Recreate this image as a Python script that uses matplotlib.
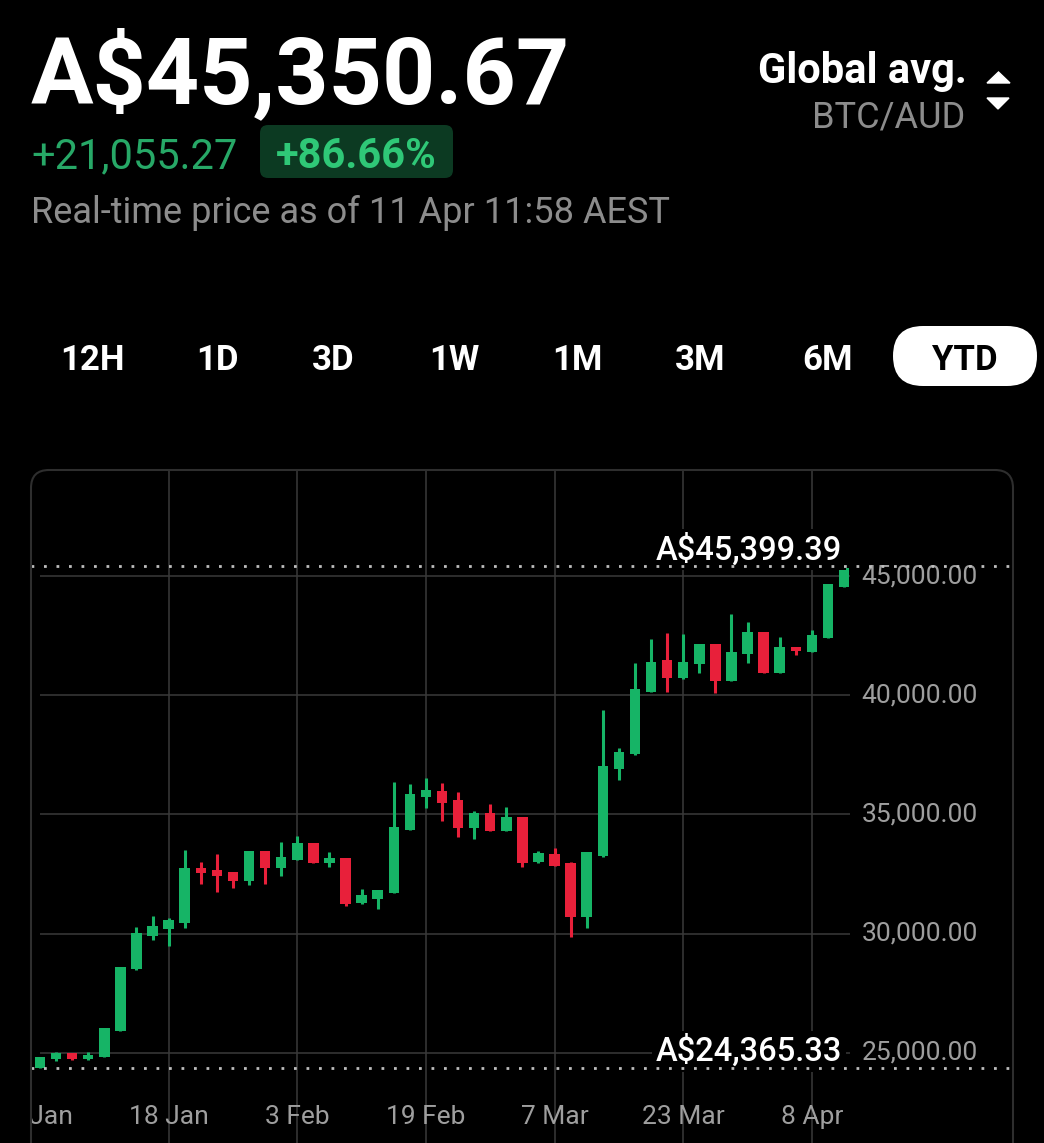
import matplotlib
matplotlib.use("Agg")
import matplotlib.pyplot as plt
from matplotlib.patches import FancyBboxPatch, Polygon
from matplotlib.transforms import IdentityTransform, blended_transform_factory
import numpy as np
import pandas as pd

plt.rcParams['font.family'] = ['Roboto', 'DejaVu Sans']

W, H = 1044, 1143

# --- data (2-day BTC/AUD candles, year to date) ---
dates = pd.date_range('2023-01-02', periods=51, freq='2D')
opens = [24365.33, 24735, 24985, 24765, 24845, 25935, 28510, 29905, 30210, 30440,
         32770, 32675, 32575, 32210, 33480, 32770, 33090, 33790, 32955, 33165,
         31275, 31445, 31720, 34350, 35745, 36000, 35610, 34420, 35050, 34320,
         34905, 32995, 33345, 32980, 30690, 33240, 36910, 37525, 40150, 41480,
         40710, 41300, 42135, 40595, 41715, 42640, 40920, 42010, 41825, 42390, 44525]
closes = [24845, 24985, 24735, 24930, 26035, 28620, 30020, 30325, 30575, 32770,
          32560, 32420, 32210, 33480, 32770, 33205, 33790, 32980, 33190, 31245,
          31625, 31835, 34465, 35860, 36025, 35470, 34420, 35075, 34320, 34905,
          32955, 33375, 32840, 30690, 33415, 37035, 37635, 40250, 41405, 40710,
          41405, 42135, 40610, 41825, 42640, 40920, 42010, 41870, 42525, 44650, 45350.67]
highs = [24850, 25030, 25000, 25030, 26040, 28625, 30295, 30755, 30645, 33510,
         33020, 33330, 32580, 33480, 33490, 33860, 34100, 33800, 33440, 33175,
         31875, 31845, 36375, 36280, 36520, 36335, 35955, 35145, 35425, 35325,
         34915, 33480, 33580, 32990, 33420, 39380, 37775, 41340, 42345, 42595,
         42570, 42140, 42145, 43395, 43085, 42645, 42455, 42015, 42735, 44660, 45399.39]
lows = [24365.33, 24675, 24720, 24715, 24830, 25925, 28500, 29735, 29485, 30230,
        32085, 31765, 31930, 32045, 32075, 32420, 33080, 32970, 32810, 31160,
        31265, 31035, 31710, 34340, 35260, 34740, 34070, 33960, 34310, 34310,
        32810, 32985, 32835, 29850, 30255, 33230, 36445, 37515, 40140, 40150,
        40700, 40920, 40080, 40590, 41365, 40915, 40915, 41690, 41820, 42380, 44520]

price_ticks = [25000, 30000, 35000, 40000, 45000]
date_ticks = ['2023-01-02', '2023-01-18', '2023-02-03', '2023-02-19',
              '2023-03-07', '2023-03-23', '2023-04-08']
date_labels = ['2 Jan', '18 Jan', '3 Feb', '19 Feb', '7 Mar', '23 Mar', '8 Apr']
periods = ['12H', '1D', '3D', '1W', '1M', '3M', '6M', 'YTD']
period_x = [92, 217, 333, 454, 577, 700, 828, 965]

price = 45350.67
change = 21055.27
change_pct = 86.66

GREEN = '#16b466'
RED = '#e8203a'
GRID = '#3a3a3a'
GREY = '#9e9e9e'

fig = plt.figure(figsize=(W / 100, H / 100), dpi=100, facecolor='black')


def fx(x):
    return x / W


def fy(y):
    return 1 - y / H


# --- header ---
fig.text(fx(31), fy(103), f"A${price:,.2f}", color='white', fontsize=67,
         fontweight='bold', va='baseline', ha='left')
fig.text(fx(31), fy(168), f"+{change:,.2f}", color='#27a867', fontsize=30,
         va='baseline', ha='left')
fig.add_artist(FancyBboxPatch((260, H - 178), 193, 53,
                              boxstyle='round,pad=0,rounding_size=8',
                              transform=IdentityTransform(),
                              facecolor='#0c3a22', edgecolor='none'))
fig.text(fx(356), fy(168), f"+{change_pct:.2f}%", color='#2fc877', fontsize=30,
         fontweight='bold', va='baseline', ha='center')
fig.text(fx(31), fy(223), "Real-time price as of 11 Apr 11:58 AEST", color='#8c8c8c',
         fontsize=26, va='baseline', ha='left')
fig.text(fx(967), fy(83), "Global avg.", color='white', fontsize=30,
         fontweight='bold', va='baseline', ha='right')
fig.text(fx(965), fy(128), "BTC/AUD", color='#8c8c8c', fontsize=26,
         va='baseline', ha='right')
fig.add_artist(Polygon([(987, H - 83), (1010, H - 83), (998.5, H - 72)],
                       transform=IdentityTransform(), color='white'))
fig.add_artist(Polygon([(987, H - 98), (1009, H - 98), (998, H - 109)],
                       transform=IdentityTransform(), color='white'))

# --- period tabs ---
fig.add_artist(FancyBboxPatch((893, H - 386), 144, 60,
                              boxstyle='round,pad=0,rounding_size=30',
                              transform=IdentityTransform(),
                              facecolor='white', edgecolor='none'))
for lab, x in zip(periods, period_x):
    col = 'black' if lab == 'YTD' else 'white'
    fig.text(fx(x), fy(370), lab, color=col, fontsize=25, fontweight='bold',
             va='baseline', ha='center')

# --- chart ---
px_day = 8.04
aud_px = 41.93
ax = fig.add_axes([fx(31), 0, (1013 - 31) / W, (H - 470) / H])
ax.set_facecolor('black')
ax.set_xlim(-9 / px_day, 973 / px_day)
ax.set_ylim(45000 - (H - 576) * aud_px, 45000 + (576 - 470) * aud_px)
for s in ax.spines.values():
    s.set_visible(False)
ax.set_xticks([])
ax.set_yticks([])

fig.add_artist(FancyBboxPatch((31, -30), 982, H - 470 + 30,
                              boxstyle='round,pad=0,rounding_size=18',
                              transform=IdentityTransform(),
                              facecolor='none', edgecolor='#2e2e2e', lw=1.5))

start = dates[0]
x = np.array([(d - start).days for d in dates])
tick_x = [(pd.Timestamp(d) - start).days for d in date_ticks]

ax.hlines(price_ticks, 0, 100.7, color=GRID, lw=1.1, zorder=1)
for t in tick_x[1:]:
    ax.axvline(t, color=GRID, lw=1.1, zorder=1)

o = np.array(opens)
c = np.array(closes)
cols = [GREEN if cc >= oo else RED for oo, cc in zip(o, c)]
ax.vlines(x, lows, highs, colors=cols, lw=2.2, zorder=3)
ax.bar(x, np.abs(c - o), bottom=np.minimum(o, c), width=1.3, color=cols, zorder=3)

hi = max(highs)
lo = min(lows)
for v in (hi, lo):
    ax.axhline(v, color='#bdbdbd', lw=2, linestyle=(0, (1, 3.5)), zorder=6)
    ax.annotate(f"A${v:,.2f}", xy=(99.75, v), xytext=(0, 7), textcoords='offset pixels',
                ha='right', va='baseline', color='white', fontsize=23.5, fontweight='medium',
                zorder=5, bbox=dict(boxstyle='square,pad=0.12', fc='black', ec='none'))

for v in price_ticks:
    ax.text(102.2, v, f"{v:,.2f}", color=GREY, fontsize=19, va='center', ha='left',
            zorder=4)

tr = blended_transform_factory(ax.transData, ax.transAxes)
for t, lab in zip(tick_x, date_labels):
    ax.text(t, (H - 1124) / (H - 470), lab, color=GREY, fontsize=19, ha='center',
            va='baseline', transform=tr, clip_on=True)

fig.savefig('out.png', dpi=100, facecolor='black')
